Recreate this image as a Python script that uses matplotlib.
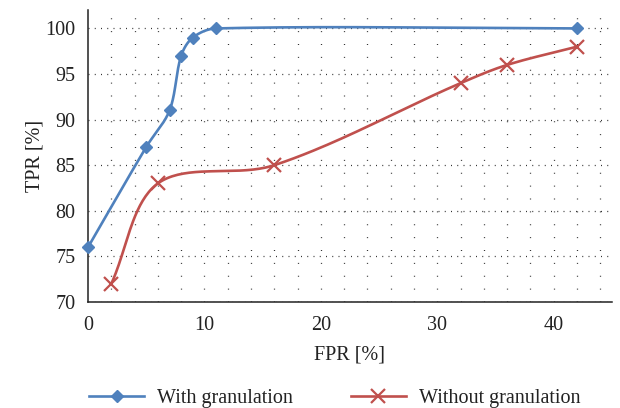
import numpy as np
import matplotlib
matplotlib.use('Agg')
import matplotlib.pyplot as plt

# 数据
fpr_with = [0, 5, 7, 8, 9, 11, 42]
tpr_with = [76, 87, 91, 97, 99, 100, 100]
fpr_without = [2, 6, 16, 32, 36, 42]
tpr_without = [72, 83, 85, 94, 96, 98]

label_with = 'With granulation'
label_without = 'Without granulation'
xticks = [0, 10, 20, 30, 40]
yticks = [70, 75, 80, 85, 90, 95, 100]

BLUE = '#4F81BD'
RED = '#C0504D'


def smooth_curve(xs, ys, n=40, sx=11.6, sy=9.1):
    """平滑线: Catmull-Rom 切线按弦长缩放, 转成 Bezier"""
    p = np.column_stack([xs, ys]).astype(float)
    scale = np.array([sx, sy])

    def dist(a, b):
        return np.hypot(*((b - a) * scale))

    out = []
    for i in range(len(p) - 1):
        p0 = p[i - 1] if i > 0 else p[i]
        p1, p2 = p[i], p[i + 1]
        p3 = p[i + 2] if i + 2 < len(p) else p[i + 1]
        d01, d12, d23 = dist(p0, p1), dist(p1, p2), dist(p2, p3)
        c1 = p1 + (p2 - p0) * d12 / (d01 + d12) / 3
        c2 = p2 - (p3 - p1) * d12 / (d12 + d23) / 3
        t = np.linspace(0, 1, n)[:, None]
        seg = ((1 - t) ** 3) * p1 + 3 * ((1 - t) ** 2) * t * c1 + 3 * (1 - t) * t ** 2 * c2 + t ** 3 * p2
        out.append(seg if i == 0 else seg[1:])
    pts = np.vstack(out)
    return pts[:, 0], pts[:, 1]


plt.rcParams['font.family'] = ['Liberation Serif', 'DejaVu Serif']
FS = 14.5

fig = plt.figure(figsize=(6.2, 4.08), dpi=100)
ax = fig.add_axes([0.142, 0.26, 0.845, 0.715])

# 网格 (点状)
for gx in np.arange(2, 45.1, 2):
    ax.axvline(gx, color='#333333', lw=0.9, ls=(0, (0.8, 9.5)), zorder=0)
for gy in yticks:
    ax.axhline(gy, color='#333333', lw=0.9, ls=(0, (0.8, 4.2)), zorder=0)

sx, sy = smooth_curve(fpr_with, tpr_with)
ax.plot(sx, sy, color=BLUE, lw=1.9, zorder=3, clip_on=False)
ax.plot(fpr_with, tpr_with, ls='none', marker='D', ms=6.5, color=BLUE, zorder=4, clip_on=False)

sx, sy = smooth_curve(fpr_without, tpr_without)
ax.plot(sx, sy, color=RED, lw=1.9, zorder=3)
ax.plot(fpr_without, tpr_without, ls='none', marker='x', ms=10, mew=1.6, color=RED, zorder=4)

ax.set_xlim(0, 45)
ax.set_ylim(70, 102)
ax.set_xticks(xticks)
ax.set_yticks(yticks)
ax.tick_params(length=0, labelsize=FS, colors='#222222')
ax.tick_params(axis='x', pad=10)
ax.tick_params(axis='y', pad=9)
for s in ['top', 'right']:
    ax.spines[s].set_visible(False)
for s in ['left', 'bottom']:
    ax.spines[s].set_linewidth(1.1)
    ax.spines[s].set_color('#222222')

ax.set_xlabel('FPR [%]', fontsize=FS, color='#222222', labelpad=8)
ax.set_ylabel('TPR [%]', fontsize=FS, color='#222222', labelpad=1)

h1 = plt.Line2D([], [], color=BLUE, lw=1.9, marker='D', ms=6.5)
h2 = plt.Line2D([], [], color=RED, lw=1.9, marker='x', ms=10, mew=1.6)
fig.legend([h1, h2], [label_with, label_without], loc='center',
           bbox_to_anchor=(0.54, 0.024), ncol=2, frameon=False, fontsize=FS,
           handlelength=2.7, columnspacing=2.9, handletextpad=0.65,
           labelcolor='#222222', borderpad=0)

fig.savefig('out.png', dpi=100)
